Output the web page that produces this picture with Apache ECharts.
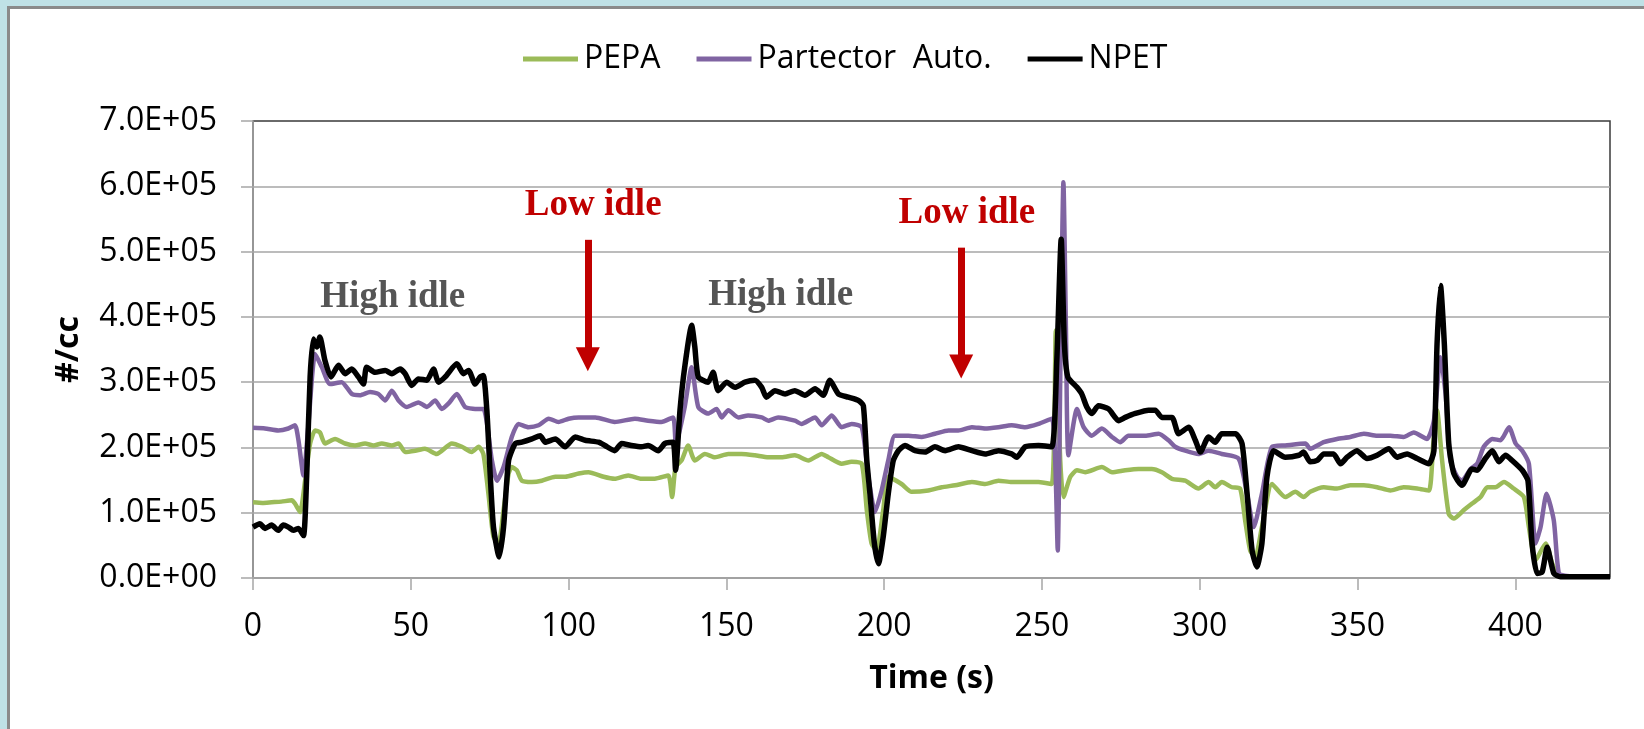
<!DOCTYPE html>
<html>
<head>
<meta charset="utf-8">
<title>PEPA / Partector / NPET</title>
<script src="https://cdn.jsdelivr.net/npm/echarts@6/dist/echarts.min.js"></script>
<style>
  html, body { margin: 0; padding: 0; background: #bfe1e6; }
  #panel {
    position: absolute; left: 7px; top: 6px; width: 1650px; height: 740px;
    background: #fff; border-left: 3px solid #8a8a8a; border-top: 3px solid #8a8a8a;
  }
  #main { position: absolute; left: 0; top: 0; width: 1644px; height: 729px; }
</style>
</head>
<body>
<div id="panel"></div>
<div id="main"></div>
<script>
// values are in units of 1.0E+05 #/cc
var UNIT = 1e5;

var pepaTime = [0, 3, 5.9, 9, 12.3, 13.3, 14.9, 16.5, 18.1, 19.7, 21.2, 22.8, 26.0, 29.2, 32.3, 35.5, 38.2, 40.8, 44.0, 46.1,
  48.2, 51.4, 54.5, 58.2, 63.0, 66.2, 69.3, 71.5, 73.0, 74.6, 76.2, 77.8, 79.4, 81.0, 82.0, 83.6, 85.2, 88.4, 91.5, 95.8,
  98.9, 103.2, 106.3, 111.1, 114.6, 118.9, 123.1, 127.3, 131.6, 132.8, 133.9, 135.8, 137.9, 140.0, 143.2, 146.4, 150.6, 154.8, 159.0, 163.3,
  167.5, 171.7, 176.0, 180.2, 182.3, 186.5, 189.7, 192.9, 194.5, 196.0, 197.6, 199.7, 201.3, 205.5, 208.7, 214.0, 218.2, 222.5, 227.8, 232.0,
  236.2, 240.4, 244.7, 248.9, 253.1, 254.4, 255.8, 256.8, 259.0, 261.1, 263.7, 269.0, 272.2, 276.4, 280.6, 284.8, 288.0, 291.2, 295.4, 299.6,
  302.8, 304.9, 307.0, 310.2, 312.8, 314.4, 316.0, 317.6, 319.7, 322.9, 327.1, 330.3, 332.9, 335.0, 339.3, 343.5, 347.7, 352.0, 356.2, 360.4,
  364.6, 368.9, 372.6, 374.0, 375.2, 376.8, 378.9, 380.5, 383.7, 386.3, 389.0, 391.1, 393.7, 396.4, 399.5, 402.7, 404.3, 406.4, 409.6, 411.7,
  413.3, 416, 430];
var pepaVal = [1.16, 1.15, 1.16, 1.17, 1.19, 1.14, 1.01, 1.49, 2.06, 2.26, 2.23, 2.06, 2.13, 2.06, 2.03, 2.06, 2.03, 2.06, 2.03, 2.06,
  1.93, 1.95, 1.98, 1.90, 2.06, 2.01, 1.93, 2.01, 1.90, 1.29, 0.63, 0.53, 1.04, 1.60, 1.70, 1.65, 1.49, 1.47, 1.49, 1.55,
  1.55, 1.60, 1.62, 1.55, 1.52, 1.57, 1.52, 1.52, 1.57, 1.24, 1.70, 1.80, 2.03, 1.80, 1.90, 1.85, 1.90, 1.90, 1.88, 1.85,
  1.85, 1.88, 1.80, 1.90, 1.85, 1.75, 1.78, 1.75, 1.04, 0.53, 0.42, 1.04, 1.55, 1.44, 1.32, 1.34, 1.39, 1.42, 1.47, 1.44,
  1.49, 1.47, 1.47, 1.47, 1.44, 3.79, 1.80, 1.24, 1.55, 1.65, 1.62, 1.70, 1.62, 1.65, 1.67, 1.67, 1.62, 1.52, 1.49, 1.37,
  1.47, 1.39, 1.47, 1.39, 1.37, 0.88, 0.42, 0.32, 0.78, 1.44, 1.24, 1.32, 1.24, 1.32, 1.39, 1.37, 1.42, 1.42, 1.39, 1.34,
  1.39, 1.37, 1.34, 2.06, 2.57, 1.80, 0.98, 0.91, 1.04, 1.14, 1.24, 1.39, 1.39, 1.47, 1.37, 1.24, 0.78, 0.27, 0.53, 0.22,
  0.07, 0.02, 0.02];

var partTime = [0, 3.8, 8.0, 11.2, 13.3, 14.4, 16.0, 17.5, 19.7, 21.8, 24.4, 28.1, 31.3, 33.9, 37.1, 39.7, 41.9, 44.0, 46.1, 48.7,
  52.4, 55.1, 57.7, 59.8, 61.9, 64.6, 67.2, 70.4, 73.0, 75.7, 77.3, 79.4, 82.0, 84.1, 87.3, 90.5, 93.7, 96.8, 100.0, 103.2,
  108.5, 114.6, 121.0, 125.2, 129.4, 133.1, 134.0, 136.8, 139.0, 141.1, 144.2, 146.9, 148.5, 150.6, 153.8, 156.9, 161.2, 163.3, 166.4, 171.7,
  173.8, 178.1, 180.2, 183.4, 186.5, 189.7, 192.9, 195.0, 197.1, 199.2, 201.3, 203.4, 207.7, 211.9, 216.1, 220.4, 223.5, 227.8, 232.0, 236.2,
  240.4, 244.7, 248.9, 253.1, 254.2, 255.0, 256.0, 256.8, 257.6, 258.4, 261.1, 263.2, 265.8, 269.0, 272.2, 274.8, 277.4, 282.7, 287.0, 290.1,
  292.2, 295.4, 299.6, 302.8, 307.0, 312.3, 315.0, 317.1, 319.7, 322.9, 327.1, 333.5, 335.0, 339.3, 343.5, 347.7, 352.0, 356.2, 360.4, 364.6,
  367.8, 372.0, 374.2, 376.3, 377.9, 379.4, 381.6, 383.1, 385.8, 387.9, 390.0, 392.7, 395.3, 398.0, 400.1, 402.2, 404.3, 406.4, 408.0, 409.9,
  412.2, 413.8, 416.4, 430];
var partVal = [2.30, 2.29, 2.26, 2.29, 2.34, 2.11, 1.57, 2.31, 3.43, 3.23, 2.97, 3.00, 2.82, 2.80, 2.85, 2.82, 2.72, 2.87, 2.72, 2.62,
  2.69, 2.62, 2.72, 2.59, 2.67, 2.82, 2.62, 2.59, 2.59, 1.80, 1.49, 1.70, 2.16, 2.36, 2.31, 2.34, 2.44, 2.39, 2.44, 2.46,
  2.46, 2.39, 2.44, 2.41, 2.39, 2.46, 2.06, 2.62, 3.23, 2.62, 2.52, 2.59, 2.46, 2.57, 2.46, 2.49, 2.46, 2.41, 2.46, 2.41,
  2.36, 2.46, 2.34, 2.49, 2.31, 2.36, 2.31, 1.55, 1.01, 1.34, 1.80, 2.18, 2.18, 2.16, 2.21, 2.26, 2.26, 2.31, 2.29, 2.31,
  2.34, 2.31, 2.36, 2.44, 1.80, 0.42, 3.84, 6.06, 3.84, 1.88, 2.59, 2.31, 2.18, 2.29, 2.16, 2.08, 2.18, 2.18, 2.21, 2.11,
  2.01, 1.95, 1.90, 1.95, 1.90, 1.83, 1.29, 0.78, 1.29, 2.01, 2.03, 2.06, 1.98, 2.08, 2.13, 2.16, 2.21, 2.18, 2.18, 2.16,
  2.23, 2.13, 2.41, 3.38, 2.82, 1.80, 1.55, 1.49, 1.67, 1.75, 2.01, 2.13, 2.11, 2.31, 2.06, 1.95, 1.75, 0.53, 0.78, 1.29,
  0.88, 0.07, 0.03, 0.02];

var npetTime = [0, 2.2, 3.8, 5.9, 8.0, 9.6, 11.2, 12.8, 14.4, 16.0, 17.0, 18.1, 19.1, 20.2, 21.2, 22.8, 24.7, 27.1, 29.2, 31.3,
  33.4, 35.0, 36.0, 38.7, 41.9, 44.0, 46.6, 48.2, 50.3, 52.4, 55.1, 57.2, 58.8, 60.9, 64.6, 66.7, 68.3, 70.4, 72.0, 73.0,
  74.1, 75.2, 76.2, 78.0, 79.4, 81.0, 83.1, 85.2, 88.4, 91.0, 92.6, 95.8, 98.9, 102.1, 105.3, 109.5, 111.5, 114.6, 116.8, 119.9,
  123.1, 125.2, 128.4, 130.5, 133.1, 133.9, 135.3, 136.8, 139.0, 140.0, 141.1, 144.2, 145.8, 147.4, 150.1, 152.7, 155.9, 159.0, 161.2, 162.7,
  165.4, 168.6, 171.7, 174.9, 178.1, 180.7, 182.8, 185.5, 188.6, 191.8, 193.4, 194.5, 195.5, 196.9, 198.2, 199.7, 201.3, 202.9, 204.5, 206.6,
  209.8, 213.0, 216.1, 219.3, 223.5, 227.8, 232.0, 236.2, 240.4, 242.0, 244.7, 248.9, 253.1, 254.7, 256.1, 257.1, 258.2, 261.1, 262.6, 264.2,
  265.8, 267.9, 271.1, 274.3, 276.4, 279.6, 283.8, 285.9, 288.0, 291.2, 293.3, 296.5, 298.6, 300.2, 302.8, 304.9, 307.0, 311.3, 313.4, 315.0,
  316.6, 318.1, 319.7, 321.3, 323.4, 327.1, 331.4, 332.9, 335.0, 337.2, 339.3, 342.4, 344.6, 346.7, 349.8, 353.0, 356.2, 359.9, 362.5, 365.7,
  368.9, 372.6, 374.2, 375.2, 376.3, 377.5, 378.9, 380.5, 383.1, 386.3, 387.9, 390.5, 392.7, 394.8, 396.9, 399.0, 402.2, 404.0, 405.3, 406.9,
  408.5, 410.1, 412.2, 414.3, 430];
var npetVal = [0.78, 0.83, 0.76, 0.81, 0.73, 0.81, 0.78, 0.73, 0.76, 0.65, 1.55, 3.08, 3.66, 3.54, 3.69, 3.33, 3.08, 3.26, 3.13, 3.20,
  3.08, 2.97, 3.23, 3.15, 3.18, 3.13, 3.20, 3.13, 2.95, 3.05, 3.03, 3.20, 3.00, 3.08, 3.28, 3.13, 3.18, 2.97, 3.08, 3.10,
  2.57, 1.55, 0.78, 0.32, 0.78, 1.80, 2.06, 2.08, 2.13, 2.18, 2.08, 2.13, 2.01, 2.16, 2.11, 2.08, 2.03, 1.95, 2.06, 2.03,
  2.01, 2.03, 1.95, 2.06, 2.08, 1.65, 2.57, 3.23, 3.87, 3.54, 3.08, 3.00, 3.15, 2.87, 3.00, 2.92, 3.00, 3.03, 2.92, 2.77,
  2.87, 2.82, 2.87, 2.80, 2.90, 2.80, 3.03, 2.82, 2.77, 2.72, 2.64, 1.80, 1.29, 0.53, 0.22, 0.63, 1.29, 1.80, 1.95, 2.03,
  1.95, 1.93, 2.01, 1.95, 2.01, 1.95, 1.90, 1.95, 1.90, 1.85, 2.01, 2.03, 2.01, 3.33, 5.19, 3.59, 3.08, 2.92, 2.82, 2.62,
  2.52, 2.64, 2.59, 2.41, 2.46, 2.52, 2.57, 2.57, 2.46, 2.46, 2.21, 2.31, 2.11, 1.93, 2.16, 2.08, 2.21, 2.21, 2.06, 1.29,
  0.42, 0.17, 0.53, 1.55, 1.95, 1.85, 1.88, 1.93, 1.78, 1.80, 1.90, 1.90, 1.75, 1.85, 1.95, 1.83, 1.88, 1.98, 1.85, 1.90,
  1.83, 1.75, 1.95, 3.59, 4.48, 3.59, 2.06, 1.60, 1.42, 1.67, 1.65, 1.83, 1.95, 1.78, 1.88, 1.80, 1.65, 1.49, 0.53, 0.07,
  0.09, 0.47, 0.07, 0.02, 0.02];

var seriesNames = ['PEPA', 'Partector  Auto.', 'NPET'];

// annotations (data coordinates)
var noteText = ['High idle', 'Low idle', 'High idle', 'Low idle'];
var noteX = [44.3, 107.8, 167.2, 226.2];
var noteY = [4.30, 5.70, 4.33, 5.59];
var arrowX = [106.1, 224.4];
var arrowTop = [5.18, 5.06];
var arrowHead = [3.35, 3.24];

var xTicks = { min: 0, max: 430, step: 50 };
var yTicks = { min: 0, max: 7e5, step: 1e5 };

function pairs(t, v) {
  var out = [];
  for (var i = 0; i < t.length; i++) out.push([t[i], v[i] * UNIT]);
  return out;
}

function sci(v) {
  var s = v.toExponential(1).split('e');
  var e = parseInt(s[1], 10);
  var ee = Math.abs(e) < 10 ? '0' + Math.abs(e) : '' + Math.abs(e);
  return s[0] + 'E' + (e < 0 ? '-' : '+') + ee;
}

var noteColor = { 'High idle': '#555555', 'Low idle': '#c00000' };
var notes = [];
for (var i = 0; i < noteText.length; i++) {
  notes.push({
    name: noteText[i],
    value: [noteX[i], noteY[i] * UNIT],
    label: { color: noteColor[noteText[i]] }
  });
}
var arrows = [];
for (var j = 0; j < arrowX.length; j++) {
  arrows.push([
    { coord: [arrowX[j], arrowTop[j] * UNIT] },
    { coord: [arrowX[j], arrowHead[j] * UNIT] }
  ]);
}

var gray = '#a6a6a6';
var font = 'Open Sans';

var chart = echarts.init(document.getElementById('main'), null, { renderer: 'canvas' });

var option = {
  animation: false,
  textStyle: { fontFamily: font },
  legend: {
    left: 518,
    top: 36,
    itemWidth: 55,
    itemHeight: 5,
    itemGap: 36,
    icon: 'rect',
    data: seriesNames,
    textStyle: { fontFamily: font, fontSize: 32, color: '#000', lineHeight: 36, padding: [0, 0, 0, 1] }
  },
  grid: {
    left: 253,
    right: 34,
    top: 121,
    bottom: 151,
    show: true,
    backgroundColor: 'transparent',
    borderColor: '#3a3a3a',
    borderWidth: 1.5
  },
  xAxis: {
    type: 'value',
    min: xTicks.min,
    max: xTicks.max,
    interval: xTicks.step,
    name: 'Time (s)',
    nameLocation: 'middle',
    nameGap: 85,
    nameTextStyle: { fontFamily: font, fontSize: 32, fontWeight: 'bold', color: '#000' },
    axisLine: { lineStyle: { color: gray, width: 1.5 } },
    axisTick: { show: true, length: 12, lineStyle: { color: gray, width: 1.5 } },
    axisLabel: { fontFamily: font, fontSize: 32, color: '#000', margin: 33, showMaxLabel: false },
    splitLine: { show: false }
  },
  yAxis: {
    type: 'value',
    min: yTicks.min,
    max: yTicks.max,
    interval: yTicks.step,
    name: '#/cc',
    nameLocation: 'middle',
    nameRotate: 90,
    nameGap: 168,
    nameTextStyle: { fontFamily: font, fontSize: 32, fontWeight: 'bold', color: '#000' },
    axisLine: { show: true, lineStyle: { color: gray, width: 1.5 } },
    axisTick: { show: true, length: 12, lineStyle: { color: gray, width: 1.5 } },
    axisLabel: { fontFamily: font, fontSize: 32, color: '#000', margin: 36, formatter: sci },
    splitLine: { show: true, showMaxLine: false, lineStyle: { color: gray, width: 1.5 } }
  },
  series: [
    {
      name: seriesNames[0],
      type: 'line',
      data: pairs(pepaTime, pepaVal),
      showSymbol: false,
      symbol: 'none',
      smooth: 0.2,
      color: '#9bbb59',
      lineStyle: { color: '#9bbb59', width: 4.5 },
      z: 2
    },
    {
      name: seriesNames[1],
      type: 'line',
      data: pairs(partTime, partVal),
      showSymbol: false,
      symbol: 'none',
      smooth: 0.2,
      color: '#8064a2',
      lineStyle: { color: '#8064a2', width: 4.5 },
      z: 3
    },
    {
      name: seriesNames[2],
      type: 'line',
      data: pairs(npetTime, npetVal),
      showSymbol: false,
      symbol: 'none',
      smooth: 0.2,
      color: '#000000',
      lineStyle: { color: '#000000', width: 5.5 },
      z: 4
    },
    {
      name: 'notes',
      type: 'scatter',
      data: notes,
      symbolSize: 0,
      itemStyle: { color: 'rgba(0,0,0,0)' },
      silent: true,
      z: 5,
      label: {
        show: true,
        position: 'inside',
        formatter: '{b}',
        fontFamily: 'Liberation Serif',
        fontWeight: 'bold',
        fontSize: 37,
        opacity: 1,
        textBorderWidth: 0
      },
      markLine: {
        silent: true,
        symbol: ['none', 'triangle'],
        symbolSize: 24,
        label: { show: false },
        itemStyle: { color: '#c00000', opacity: 1 },
        lineStyle: { color: '#c00000', width: 7, type: 'solid', opacity: 1 },
        emphasis: { disabled: true },
        data: arrows
      }
    }
  ]
};

chart.setOption(option);
</script>
</body>
</html>
